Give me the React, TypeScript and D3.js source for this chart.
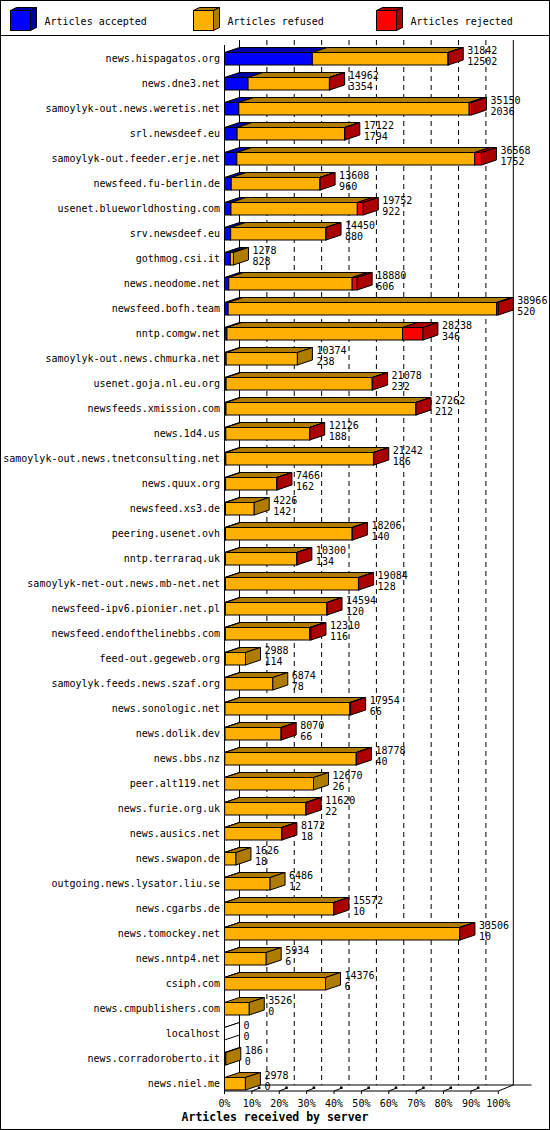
import { useEffect, useRef } from 'react';
import * as d3 from 'd3';

const servers = [
  'news.hispagatos.org', 'news.dne3.net', 'samoylyk-out.news.weretis.net', 'srl.newsdeef.eu',
  'samoylyk-out.feeder.erje.net', 'newsfeed.fu-berlin.de', 'usenet.blueworldhosting.com', 'srv.newsdeef.eu',
  'gothmog.csi.it', 'news.neodome.net', 'newsfeed.bofh.team', 'nntp.comgw.net',
  'samoylyk-out.news.chmurka.net', 'usenet.goja.nl.eu.org', 'newsfeeds.xmission.com', 'news.1d4.us',
  'samoylyk-out.news.tnetconsulting.net', 'news.quux.org', 'newsfeed.xs3.de', 'peering.usenet.ovh',
  'nntp.terraraq.uk', 'samoylyk-net-out.news.mb-net.net', 'newsfeed-ipv6.pionier.net.pl', 'newsfeed.endofthelinebbs.com',
  'feed-out.gegeweb.org', 'samoylyk.feeds.news.szaf.org', 'news.sonologic.net', 'news.dolik.dev',
  'news.bbs.nz', 'peer.alt119.net', 'news.furie.org.uk', 'news.ausics.net',
  'news.swapon.de', 'outgoing.news.lysator.liu.se', 'news.cgarbs.de', 'news.tomockey.net',
  'news.nntp4.net', 'csiph.com', 'news.cmpublishers.com', 'localhost',
  'news.corradoroberto.it', 'news.niel.me',
];

const accepted = [
  12502, 3354, 2036, 1794, 1752, 960, 922, 880, 828, 606, 520, 346,
  238, 232, 212, 188, 186, 162, 142, 140, 134, 128, 120, 116,
  114, 78, 66, 66, 40, 26, 22, 18, 18, 12, 10, 10,
  6, 6, 0, 0, 0, 0,
];

const refused = [
  19310, 11578, 32784, 15298, 33866, 12628, 17980, 13550, 450, 17564, 38206, 24992,
  10136, 20786, 27030, 11918, 21016, 7284, 4084, 18026, 10156, 18936, 14464, 11994,
  2874, 6796, 17768, 7994, 18708, 12644, 11568, 8144, 1608, 6474, 15552, 33456,
  5928, 14370, 3526, 0, 186, 2978,
];

const rejected = [
  30, 30, 330, 30, 950, 20, 850, 20, 0, 710, 240, 2900,
  0, 60, 20, 20, 40, 20, 0, 40, 10, 20, 10, 200,
  0, 0, 120, 10, 30, 0, 30, 10, 0, 0, 10, 40,
  0, 0, 0, 0, 0, 0,
];

const seriesNames = ['Articles accepted', 'Articles refused', 'Articles rejected'];
const seriesFront = ['#0000ff', '#ffb000', '#ff0000'];
const seriesDark = ['#0000a8', '#b07c00', '#aa0000'];

const W = 550;
const H = 1130;
const FONT = '"DejaVu Sans Mono", "Liberation Mono", monospace';

export default function App() {
  const svgRef = useRef<SVGSVGElement>(null);

  useEffect(() => {
    if (!svgRef.current) return;
    const svg = d3.select(svgRef.current);
    svg.selectAll('*').remove();

    const dx = 15;
    const dy = 5;
    const x0 = 224.5;
    const x1 = 498.3;
    const yTop = 45;
    const yFloor = 1091;

    const totals = servers.map((_, i) => accepted[i] + refused[i] + rejected[i]);
    const maxTotal = d3.max(totals) as number;

    const x = d3.scaleLinear().domain([0, 1]).range([x0, x1]);
    const y = d3.scaleBand<string>()
      .domain(servers)
      .range([46.25, 46.25 + servers.length * 25])
      .paddingInner(0.5)
      .paddingOuter(0.25);

    // background + border
    svg.append('rect').attr('x', 0.5).attr('y', 0.5).attr('width', W - 1).attr('height', H - 1)
      .attr('fill', 'white').attr('stroke', 'black');
    svg.append('line').attr('x1', 0).attr('x2', W).attr('y1', 35.5).attr('y2', 35.5).attr('stroke', 'black');

    // legend
    const legendX = [10.5, 193.5, 376.5];
    seriesNames.forEach((name, k) => {
      const lx = legendX[k];
      const ly = 10.5;
      const g = svg.append('g');
      g.append('polygon')
        .attr('points', `${lx},${ly} ${lx + 6},${ly - 3} ${lx + 26},${ly - 3} ${lx + 20},${ly}`)
        .attr('fill', seriesDark[k]).attr('stroke', 'black');
      g.append('polygon')
        .attr('points', `${lx + 20},${ly} ${lx + 26},${ly - 3} ${lx + 26},${ly + 17} ${lx + 20},${ly + 20}`)
        .attr('fill', seriesDark[k]).attr('stroke', 'black');
      g.append('rect').attr('x', lx).attr('y', ly).attr('width', 20).attr('height', 20)
        .attr('fill', seriesFront[k]).attr('stroke', 'black');
      g.append('text').attr('x', lx + 34).attr('y', 24.5)
        .attr('font-family', FONT).attr('font-size', '10px').attr('fill', 'black')
        .text(name);
    });

    // back wall gridlines
    const ticks = x.ticks(10);
    ticks.forEach(t => {
      if (t === 0 || t === 1) return;
      svg.append('line')
        .attr('x1', x(t) + dx).attr('x2', x(t) + dx)
        .attr('y1', yTop - dy).attr('y2', yFloor - 6)
        .attr('stroke', 'black').attr('stroke-dasharray', '5,4');
    });
    svg.append('line').attr('x1', x0 + dx).attr('x2', x0 + dx).attr('y1', yTop - dy).attr('y2', yFloor - 6).attr('stroke', 'black');
    svg.append('line').attr('x1', x1 + dx).attr('x2', x1 + dx).attr('y1', yTop - dy).attr('y2', yFloor - 6).attr('stroke', 'black');
    svg.append('line').attr('x1', x0 + dx).attr('x2', 531.5).attr('y1', yFloor - 6).attr('y2', yFloor - 6).attr('stroke', 'black');
    svg.append('line').attr('x1', x1).attr('x2', x1 + dx).attr('y1', yFloor).attr('y2', yFloor - 6).attr('stroke', 'black');

    // bars
    const bh = y.bandwidth();
    servers.forEach((s, i) => {
      const by = y(s) as number;
      const vals = [accepted[i], refused[i], rejected[i]];
      const g = svg.append('g');
      let acc = 0;
      let lastK = -1;
      vals.forEach((v, k) => {
        const a = x(acc / maxTotal);
        const b = x((acc + v) / maxTotal);
        acc += v;
        if (v <= 0) return;
        lastK = k;
        g.append('polygon')
          .attr('points', `${a},${by} ${a + dx},${by - dy} ${b + dx},${by - dy} ${b},${by}`)
          .attr('fill', seriesDark[k]).attr('stroke', 'black').attr('stroke-linejoin', 'round');
        g.append('rect').attr('x', a).attr('y', by).attr('width', b - a).attr('height', bh)
          .attr('fill', seriesFront[k]).attr('stroke', 'black');
      });
      const end = x(totals[i] / maxTotal);
      if (lastK < 0) {
        g.append('line').attr('x1', end).attr('y1', by).attr('x2', end + dx).attr('y2', by - dy).attr('stroke', 'black');
      }
      g.append('polygon')
        .attr('points', `${end},${by} ${end + dx},${by - dy} ${end + dx},${by + bh - dy} ${end},${by + bh}`)
        .attr('fill', lastK < 0 ? 'white' : seriesDark[lastK]).attr('stroke', 'black').attr('stroke-linejoin', 'round');

      // labels
      svg.append('text').attr('x', 220).attr('y', by + bh / 2 + 3.7)
        .attr('text-anchor', 'end').attr('font-family', FONT).attr('font-size', '10px').attr('fill', 'black')
        .text(s);
      svg.append('text').attr('x', end + dx + 4).attr('y', by + 1.5)
        .attr('font-family', FONT).attr('font-size', '10px').attr('fill', 'black')
        .text(String(totals[i]));
      svg.append('text').attr('x', end + dx + 4).attr('y', by + bh)
        .attr('font-family', FONT).attr('font-size', '10px').attr('fill', 'black')
        .text(String(accepted[i]));
    });

    // front axes
    svg.append('line').attr('x1', x0).attr('x2', x0).attr('y1', yTop).attr('y2', yFloor + 3).attr('stroke', 'black');
    svg.append('line').attr('x1', x0).attr('x2', x1).attr('y1', yFloor).attr('y2', yFloor).attr('stroke', 'black');
    const fmt = d3.format('.0%');
    ticks.forEach(t => {
      const tx = x(t);
      svg.append('line').attr('x1', tx).attr('x2', tx).attr('y1', yFloor).attr('y2', yFloor + 3).attr('stroke', 'black');
      if (t > 0 && t < 1) {
        svg.append('line').attr('x1', tx).attr('y1', yFloor).attr('x2', tx + 8).attr('y2', yFloor - 3)
          .attr('stroke', 'black');
        svg.append('rect').attr('x', tx + 6).attr('y', yFloor - 4.5).attr('width', 2.5).attr('height', 2.5).attr('fill', 'black');
      }
      svg.append('text').attr('x', tx).attr('y', 1107)
        .attr('text-anchor', 'middle').attr('font-family', FONT).attr('font-size', '10px').attr('fill', 'black')
        .text(fmt(t));
    });

    svg.append('text').attr('x', W / 2).attr('y', 1121)
      .attr('text-anchor', 'middle').attr('font-family', FONT).attr('font-size', '11.5px')
      .attr('font-weight', 'bold').attr('fill', 'black')
      .text('Articles received by server');
  }, []);

  return (
    <svg
      ref={svgRef}
      width={W}
      height={H}
      style={{ position: 'absolute', left: 0, top: 0, display: 'block' }}
    />
  );
}
